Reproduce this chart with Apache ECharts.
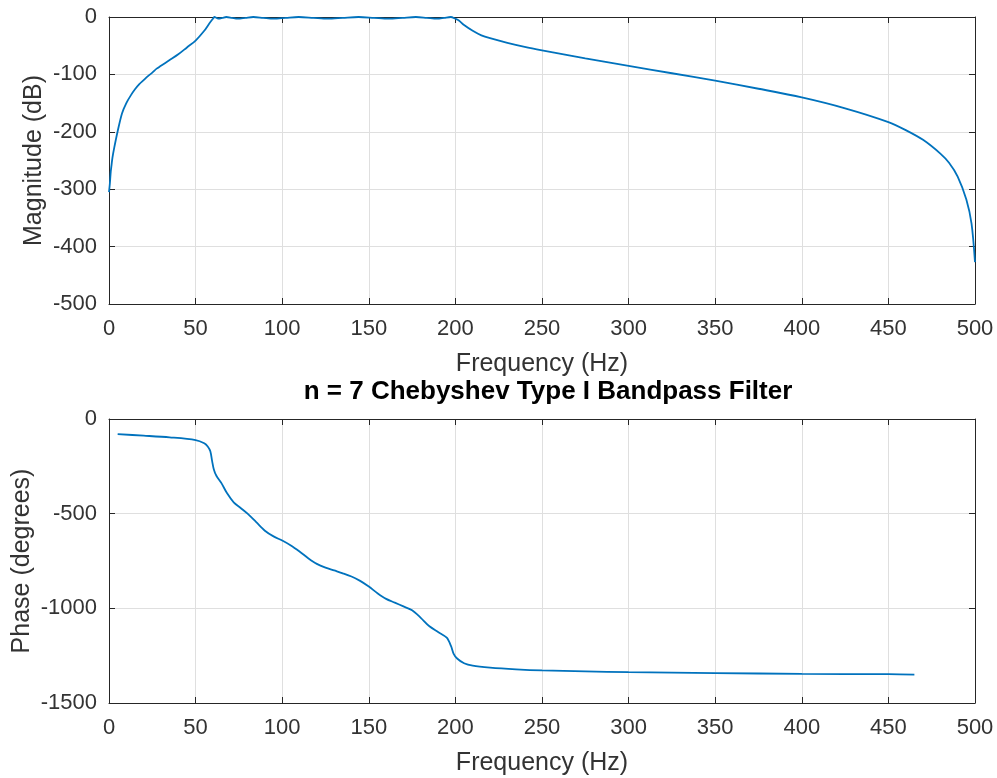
<!DOCTYPE html>
<html>
<head>
<meta charset="utf-8">
<script src="https://cdn.jsdelivr.net/npm/echarts@6/dist/echarts.min.js"></script>
<style>
html,body{margin:0;padding:0;background:#fff;}
#chart{width:997px;height:778px;}
</style>
</head>
<body>
<div id="chart"></div>
<script>
// Magnitude response (Hz, dB)
var magFreq = [0, 0.5, 1, 1.5, 2, 3, 5, 7.5, 10, 12.5, 15, 17.5, 20, 22.5, 25, 27.5, 30, 35, 40, 45, 50, 55, 58, 60,
  60.8, 62.1, 63.4, 65.5, 67.7, 71, 74.3, 78.8, 83.3, 89, 95, 102, 109.5, 118, 126.3, 135, 144.1, 153, 161.5, 169.5, 177.2, 183.5, 189.5, 193.5, 197.3, 200,
  202, 205, 210, 215, 220, 230, 240, 250, 275, 300, 325, 350, 375, 400, 425, 450, 460, 470, 480, 485, 490, 495, 498, 500];
var magDb = [-305, -290, -270, -257, -245, -228, -199, -168, -150, -137, -126, -117, -110, -103, -97, -90, -85, -75, -65, -53, -41, -24, -11, -3,
  0, -1.5, -3, -1.5, 0, -1.5, -3, -1.5, 0, -1.5, -3, -1.5, 0, -1.5, -3, -1.5, 0, -1.5, -3, -1.5, 0, -1.5, -3, -1.5, 0, -3,
  -6, -14, -24, -32, -37, -45, -52, -58, -72, -85, -98, -111, -125, -140, -159, -183, -197, -214, -238, -254, -278, -318, -360, -427];

// Phase response (Hz, degrees)
var phaseFreq = [5, 20, 35, 50, 55, 57, 58.5, 59.5, 60.5, 62, 65, 68, 72, 76, 80, 85, 90, 95, 100, 105, 110, 115, 120, 125, 130, 135, 140, 145, 150, 155, 160, 165, 170, 175, 180, 185, 190, 195, 197.5, 199, 201, 205, 210, 220, 235, 250, 275, 300, 350, 400, 450, 465];
var phaseDeg = [-80, -88, -97, -111, -128, -145, -170, -220, -265, -300, -340, -390, -440, -470, -500, -545, -590, -620, -642, -668, -700, -735, -765, -785, -800, -815, -832, -855, -885, -920, -950, -970, -990, -1010, -1050, -1095, -1125, -1155, -1200, -1240, -1265, -1290, -1303, -1313, -1322, -1328, -1333, -1337, -1342, -1346, -1348, -1350];

var xTicks = {min: 0, max: 500, interval: 50};
var magTicks = {min: -500, max: 0, interval: 100};
var phaseTicks = {min: -1500, max: 0, interval: 500};

var FONT = 'Liberation Sans';
var TXT = '#333333';
var AX = '#262626';
var GRIDC = '#dfdfdf';
var LINEC = '#0072BD';

function pairs(xs, ys){ return xs.map(function(x,i){ return [x, ys[i]]; }); }
function plain(v){ return String(v); }

function xAx(gi, pos, labels, name){
  return {
    type: 'value', gridIndex: gi, position: pos,
    min: xTicks.min, max: xTicks.max, interval: xTicks.interval,
    name: labels ? name : '', nameLocation: 'middle', nameGap: 48,
    nameTextStyle: {fontFamily: FONT, fontSize: 25, color: TXT},
    axisLine: {show: true, onZero: false, lineStyle: {color: AX, width: 1}},
    axisTick: {show: true, inside: true, length: 6, lineStyle: {color: AX}},
    axisLabel: {show: labels, margin: 14, fontFamily: FONT, fontSize: 22, color: TXT, formatter: plain},
    splitLine: {show: labels, lineStyle: {color: GRIDC, width: 1}}
  };
}
function yAx(gi, pos, labels, t, name, gap){
  return {
    type: 'value', gridIndex: gi, position: pos,
    min: t.min, max: t.max, interval: t.interval,
    name: labels ? name : '', nameLocation: 'middle', nameGap: gap, nameRotate: 90,
    nameMoveOverlap: false,
    nameTextStyle: {fontFamily: FONT, fontSize: 25, color: TXT},
    axisLine: {show: true, onZero: false, lineStyle: {color: AX, width: 1}},
    axisTick: {show: true, inside: true, length: 6, lineStyle: {color: AX}},
    axisLabel: {show: labels, margin: 12, fontFamily: FONT, fontSize: 22, color: TXT, formatter: plain},
    splitLine: {show: labels, lineStyle: {color: GRIDC, width: 1}}
  };
}

var chart = echarts.init(document.getElementById('chart'), null, {renderer: 'canvas'});
chart.setOption({
  backgroundColor: '#ffffff',
  animation: false,
  title: {
    text: 'n = 7 Chebyshev Type I Bandpass Filter',
    left: 543, top: 374, textAlign: 'center',
    textStyle: {fontFamily: FONT, fontSize: 26, fontWeight: 'bold', color: '#000'}
  },
  grid: [
    {left: 109, top: 17, width: 866, height: 287, containLabel: false, outerBoundsMode: 'none'},
    {left: 109, top: 419, width: 866, height: 284, containLabel: false, outerBoundsMode: 'none'}
  ],
  xAxis: [
    xAx(0, 'bottom', true, 'Frequency (Hz)'),
    xAx(0, 'top', false, ''),
    xAx(1, 'bottom', true, 'Frequency (Hz)'),
    xAx(1, 'top', false, '')
  ],
  yAxis: [
    yAx(0, 'left', true, magTicks, 'Magnitude (dB)', 62),
    yAx(0, 'right', false, magTicks, '', 0),
    yAx(1, 'left', true, phaseTicks, 'Phase (degrees)', 74),
    yAx(1, 'right', false, phaseTicks, '', 0)
  ],
  series: [
    {type: 'line', xAxisIndex: 0, yAxisIndex: 0, data: pairs(magFreq, magDb), showSymbol: false, clip: false,
     smooth: 0.3,
     lineStyle: {color: LINEC, width: 1.8}},
    {type: 'line', xAxisIndex: 2, yAxisIndex: 2, data: pairs(phaseFreq, phaseDeg), showSymbol: false, clip: false,
     smooth: 0.3,
     lineStyle: {color: LINEC, width: 1.8}}
  ]
});
</script>
</body>
</html>
